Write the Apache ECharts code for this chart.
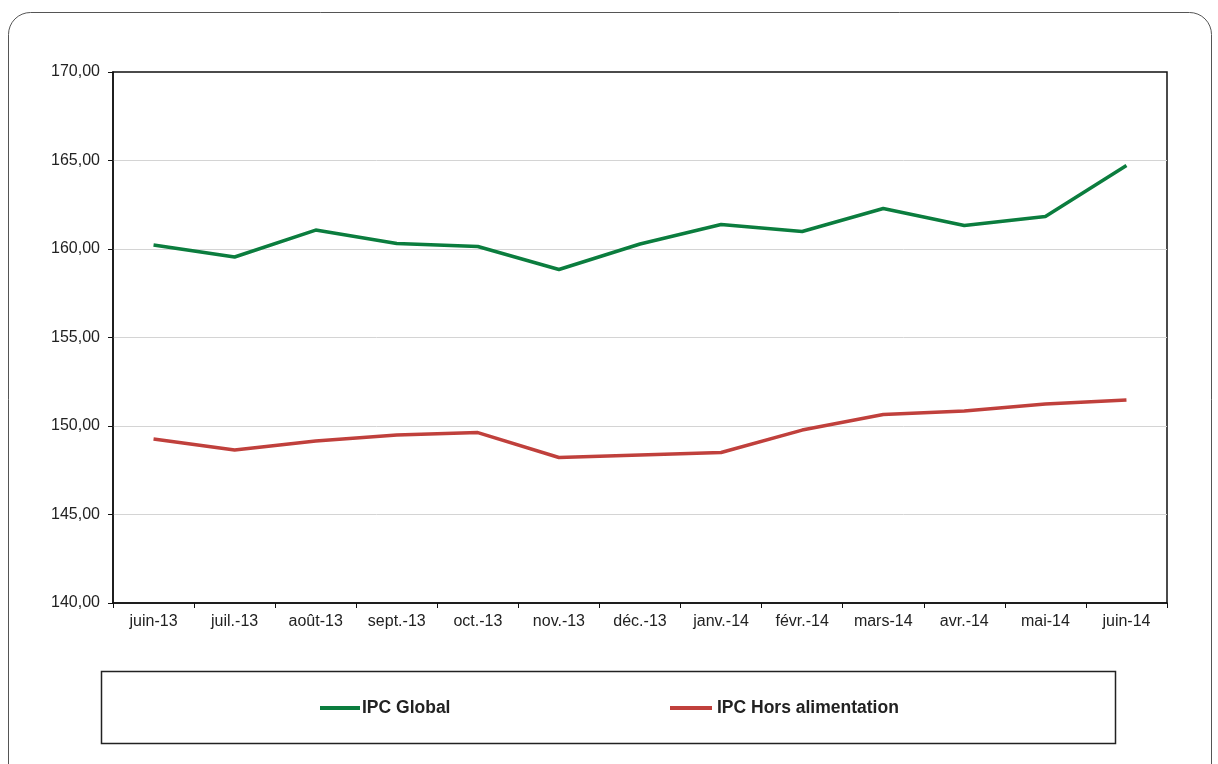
<!DOCTYPE html>
<html>
<head>
<meta charset="utf-8">
<script src="https://cdn.jsdelivr.net/npm/echarts@6/dist/echarts.min.js"></script>
<style>
html,body{margin:0;padding:0;background:#fff;}
#chart{width:1218px;height:764px;}
</style>
</head>
<body>
<div id="chart"></div>
<script>
const categories = ['juin-13','juil.-13','août-13','sept.-13','oct.-13','nov.-13','déc.-13','janv.-14','févr.-14','mars-14','avr.-14','mai-14','juin-14'];
const ipcGlobal = [160.23,159.55,161.07,160.31,160.14,158.84,160.28,161.38,160.99,162.29,161.33,161.84,164.72];
const ipcHorsAlim = [149.27,148.64,149.15,149.49,149.63,148.22,148.36,148.50,149.77,150.65,150.85,151.24,151.47];
const yTicks = {min:140, max:170, interval:5};

const chart = echarts.init(document.getElementById('chart'), null, {renderer:'canvas'});
const font = 'Liberation Sans, Arial, sans-serif';
chart.setOption({
  animation:false,
  backgroundColor:'#fff',
  graphic:[
    {type:'rect', shape:{x:8.5,y:12.5,width:1203,height:820,r:22}, style:{fill:'none',stroke:'#555',lineWidth:1}, z:-1},
    {type:'rect', shape:{x:101.5,y:671.5,width:1014,height:72}, style:{fill:'#fff',stroke:'#222',lineWidth:1.5}, z:-1}
  ],
  grid:{left:113,right:51,top:72,bottom:161,show:true,borderColor:'#111',borderWidth:1.5,backgroundColor:'transparent'},
  legend:[
    {data:['IPC Global'], left:320, top:699, padding:0, itemWidth:40, itemHeight:4, icon:'rect', itemGap:0,
     textStyle:{fontFamily:font,fontSize:17.5,fontWeight:'bold',color:'#222',padding:[0,0,0,-3]}},
    {data:['IPC Hors alimentation'], left:670, top:699, padding:0, itemWidth:42, itemHeight:4, icon:'rect', itemGap:0,
     textStyle:{fontFamily:font,fontSize:17.5,fontWeight:'bold',color:'#222',padding:[0,0,0,0]}}
  ],
  xAxis:{
    type:'category', data:categories, boundaryGap:true,
    axisLine:{lineStyle:{color:'#111',width:1.5}},
    axisTick:{show:true,length:5,lineStyle:{color:'#111'}},
    axisLabel:{fontFamily:font,fontSize:16,color:'#222',margin:11,interval:0}
  },
  yAxis:{
    type:'value', min:yTicks.min, max:yTicks.max, interval:yTicks.interval,
    axisLine:{show:true,lineStyle:{color:'#111',width:1.5}},
    axisTick:{show:true,length:5,lineStyle:{color:'#111'}},
    splitLine:{showMaxLine:false,showMinLine:false,lineStyle:{color:'#d4d4d4',width:1}},
    axisLabel:{fontFamily:font,fontSize:16,color:'#222',margin:13,
      formatter:v=>v.toFixed(2).replace('.',',')}
  },
  series:[
    {name:'IPC Global', type:'line', data:ipcGlobal, symbol:'none', lineStyle:{color:'#0b7d3e',width:3.5}, itemStyle:{color:'#0b7d3e'}},
    {name:'IPC Hors alimentation', type:'line', data:ipcHorsAlim, symbol:'none', lineStyle:{color:'#c0403c',width:3.5}, itemStyle:{color:'#c0403c'}}
  ]
});
</script>
</body>
</html>
